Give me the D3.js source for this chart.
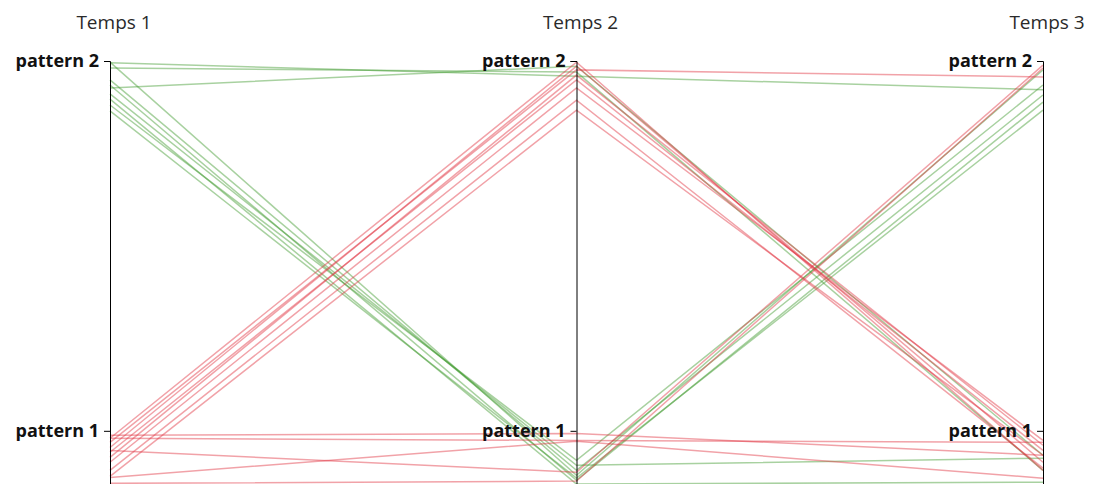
<!DOCTYPE html>
<html>
<head>
<meta charset="utf-8">
<script src="https://cdn.jsdelivr.net/npm/d3@7"></script>
<style>
  html, body { margin: 0; padding: 0; background: #fff; }
  svg { display: block; }
  .axis .tick text { font-family: "Open Sans", sans-serif; font-size: 18px; font-weight: bold; fill: #111; }
  .axis path, .axis line { stroke: #000; stroke-width: 1px; fill: none; }
  text.dim-title { font-family: "Open Sans", sans-serif; font-size: 19px; font-weight: normal; fill: #2a2a2a; }
</style>
</head>
<body>
<svg id="chart" width="1101" height="484"></svg>
<script>
// Time points (one vertical axis each)
const dimensions = ["Temps 1", "Temps 2", "Temps 3"];

// Pattern ticks shown on each axis
const tickValues = [1, 2];
const tickLabels = ["pattern 1", "pattern 2"];

// Group of each individual (pattern held at Temps 1)
const groups = [
  "p2", "p2", "p2", "p2", "p2", "p2", "p2", "p2", "p2", "p2",
  "p1", "p1", "p1", "p1", "p1", "p1", "p1", "p1", "p1", "p1", "p1", "p1", "p1"
];

// Pattern score of each individual at each time point
const temps1 = [1.995, 1.981, 1.927, 1.997, 1.949, 1.935, 1.911, 1.897, 1.881, 1.865,
                0.980, 0.969, 0.955, 0.942, 0.928, 0.915, 0.893, 0.877, 0.988, 0.980, 0.947, 0.874, 0.858];
const temps2 = [1.959, 1.970, 1.986, 0.880, 0.893, 0.866, 0.907, 0.856, 0.920, 0.872,
                1.997, 1.976, 1.986, 1.949, 1.962, 1.927, 1.894, 1.867, 0.993, 0.974, 0.888, 0.972, 0.864];
const temps3 = [1.922, 0.893, 0.934, 1.976, 1.908, 1.889, 0.926, 0.861, 1.935, 1.867,
                0.893, 1.957, 0.915, 0.947, 0.961, 0.974, 0.899, 0.934, 0.934, 0.969, 1.989, 0.872, 1.981];

const groupColor = { p2: "#3f9a2c", p1: "#e0303e" };

const rows = groups.map((g, i) => ({
  group: g,
  "Temps 1": temps1[i],
  "Temps 2": temps2[i],
  "Temps 3": temps3[i]
}));

const svg = d3.select("#chart");

const x = d3.scalePoint().domain(dimensions).range([110, 1043]);
const y = d3.scaleLinear().domain([0.84, 2]).range([490, 61]);

const line = d3.line()
  .x(d => x(d[0]))
  .y(d => y(d[1]));

// Polylines, one per individual
svg.append("g")
  .attr("class", "lines")
  .selectAll("path")
  .data(rows)
  .join("path")
  .attr("d", r => line(dimensions.map(k => [k, r[k]])))
  .attr("fill", "none")
  .attr("stroke", r => groupColor[r.group])
  .attr("stroke-opacity", 0.45)
  .attr("stroke-width", 1.5);

// One axis per time point
const axisG = svg.selectAll("g.dim")
  .data(dimensions)
  .join("g")
  .attr("class", "dim axis")
  .attr("transform", d => `translate(${x(d)},0)`);

axisG.each(function () {
  d3.select(this).call(
    d3.axisLeft(y)
      .tickValues(tickValues)
      .tickFormat((v, i) => tickLabels[i])
      .tickSize(6)
      .tickPadding(5)
  );
});

axisG.append("text")
  .attr("class", "dim-title")
  .attr("x", 4)
  .attr("y", 29)
  .attr("text-anchor", "middle")
  .text(d => d);
</script>
</body>
</html>
